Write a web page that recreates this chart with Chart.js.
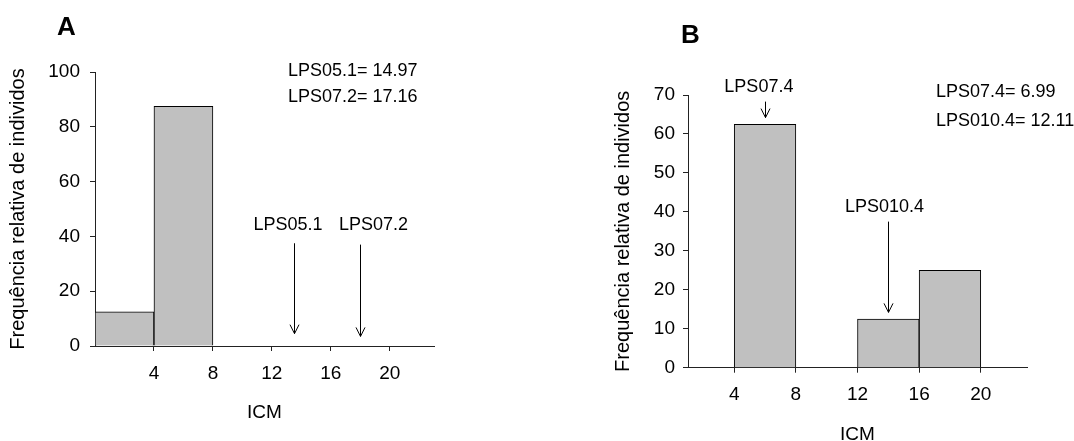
<!DOCTYPE html>
<html>
<head>
<meta charset="utf-8">
<script src="https://cdn.jsdelivr.net/npm/chart.js@4.4.1/dist/chart.umd.min.js"></script>
<style>
  body { margin: 0; background: #fff; }
  #wrap { position: relative; width: 1074px; height: 441px; }
  canvas { position: absolute; top: 0; }
</style>
</head>
<body>
<div id="wrap">
  <canvas id="chartA" width="540" height="441" style="left:0"></canvas>
  <canvas id="chartB" width="534" height="441" style="left:540px"></canvas>
</div>
<script>
// histogram bins (start of each class, width 4)
const binWidth = 4;
const binStartA = [0, 4];
const freqA = [12.5, 87.5];
const binStartB = [4, 12, 16];
const freqB = [62.5, 12.5, 25];

const xTicks = [4, 8, 12, 16, 20];
const yTicksA = [0, 20, 40, 60, 80, 100];
const yTicksB = [0, 10, 20, 30, 40, 50, 60, 70];

// arrows marking the LPS values (data units)
const arrowNamesA = ["LPS05.1", "LPS07.2"];
const arrowXA = [13.5, 18];
const arrowTopA = [37.5, 37];
const arrowTipA = [4.5, 3.5];
const labelXA = [13.1, 18.9];
const labelYA = [44, 44];
const notesA = ["LPS05.1= 14.97", "LPS07.2= 17.16"];

const arrowNamesB = ["LPS07.4", "LPS010.4"];
const arrowXB = [6, 14];
const arrowTopB = [68.3, 37.5];
const arrowTipB = [64.2, 14.2];
const labelXB = [5.6, 13.75];
const labelYB = [72, 41.2];
const notesB = ["LPS07.4= 6.99", "LPS010.4= 12.11"];

Chart.defaults.font.family = '"Liberation Sans", Arial, sans-serif';
Chart.defaults.color = "#000";

const FONT = '18px "Liberation Sans", Arial, sans-serif';

const overlay = {
  id: "overlay",
  afterDraw(chart, args, o) {
    const { ctx } = chart;
    const x = chart.scales.x, y = chart.scales.y;
    ctx.save();
    ctx.strokeStyle = "#000";
    ctx.fillStyle = "#000";
    ctx.lineWidth = 1;
    ctx.font = FONT;
    ctx.textAlign = "center";
    ctx.textBaseline = "middle";
    o.arrowX.forEach((v, i) => {
      const px = Math.round(x.getPixelForValue(v)) + 0.5;
      const top = y.getPixelForValue(o.arrowTop[i]);
      const tip = y.getPixelForValue(o.arrowTip[i]);
      ctx.beginPath();
      ctx.moveTo(px, top);
      ctx.lineTo(px, tip);
      ctx.moveTo(px - 4.5, tip - 9);
      ctx.lineTo(px, tip);
      ctx.lineTo(px + 4.5, tip - 9);
      ctx.stroke();
      ctx.fillText(o.names[i], x.getPixelForValue(o.labelX[i]), y.getPixelForValue(o.labelY[i]));
    });
    ctx.textAlign = "left";
    o.notes.forEach((t, i) => ctx.fillText(t, o.noteX, o.noteY + i * o.noteGap));
    ctx.font = 'bold 26px "Liberation Sans", Arial, sans-serif';
    ctx.fillText(o.letter, o.letterX, o.letterY);
    ctx.restore();
  }
};

function makeChart(id, cfg) {
  return new Chart(document.getElementById(id), {
    type: "bar",
    data: {
      datasets: [{
        data: cfg.starts.map((s, i) => ({ x: s + binWidth / 2, y: cfg.freq[i] })),
        backgroundColor: "#c0c0c0",
        borderColor: "#000",
        borderWidth: 1,
        barPercentage: 1,
        categoryPercentage: 1
      }]
    },
    plugins: [overlay],
    options: {
      responsive: false,
      animation: false,
      devicePixelRatio: 1,
      layout: { padding: cfg.padding },
      plugins: {
        legend: { display: false },
        tooltip: { enabled: false },
        overlay: cfg.overlay
      },
      scales: {
        x: {
          type: "linear",
          min: cfg.xMin,
          max: 23,
          offset: false,
          afterBuildTicks: s => { s.ticks = xTicks.map(v => ({ value: v })); },
          afterFit: s => { s.height = cfg.xHeight; },
          grid: { drawOnChartArea: false, tickLength: 5, color: "#222", offset: false },
          border: { color: "#222" },
          ticks: { font: { size: 19 }, padding: 11, maxRotation: 0 },
          title: { display: true, text: "ICM", font: { size: 19 }, padding: { top: 0, bottom: cfg.xTitlePad } }
        },
        y: {
          min: 0,
          max: cfg.yMax,
          afterBuildTicks: s => { s.ticks = cfg.yTicks.map(v => ({ value: v })); },
          afterFit: s => { s.width = 95; },
          grid: { drawOnChartArea: false, tickLength: 5, color: "#222" },
          border: { color: "#222" },
          ticks: { font: { size: 19 }, padding: cfg.yTickPad },
          title: { display: true, text: "Frequência relativa de individos", font: { size: 20 }, padding: { top: cfg.yTitlePad, bottom: 0 } }
        }
      }
    }
  });
}

makeChart("chartA", {
  starts: binStartA, freq: freqA, xMin: 0, yMax: 100, yTicks: yTicksA,
  padding: { left: 0, top: 72, right: 106, bottom: 0 },
  xHeight: 95, xTitlePad: 17, yTickPad: 10, yTitlePad: 6,
  overlay: {
    names: arrowNamesA, arrowX: arrowXA, arrowTop: arrowTopA, arrowTip: arrowTipA,
    labelX: labelXA, labelY: labelYA,
    notes: notesA, noteX: 288, noteY: 71, noteGap: 26,
    letter: "A", letterX: 57, letterY: 28
  }
});

makeChart("chartB", {
  starts: binStartB, freq: freqB, xMin: 1, yMax: 70, yTicks: yTicksB,
  padding: { left: 53, top: 95, right: 47, bottom: 0 },
  xHeight: 73.3, xTitlePad: -5, yTickPad: 8, yTitlePad: 18,
  overlay: {
    names: arrowNamesB, arrowX: arrowXB, arrowTop: arrowTopB, arrowTip: arrowTipB,
    labelX: labelXB, labelY: labelYB,
    notes: notesB, noteX: 396, noteY: 92, noteGap: 29,
    letter: "B", letterX: 141, letterY: 36
  }
});
</script>
</body>
</html>
